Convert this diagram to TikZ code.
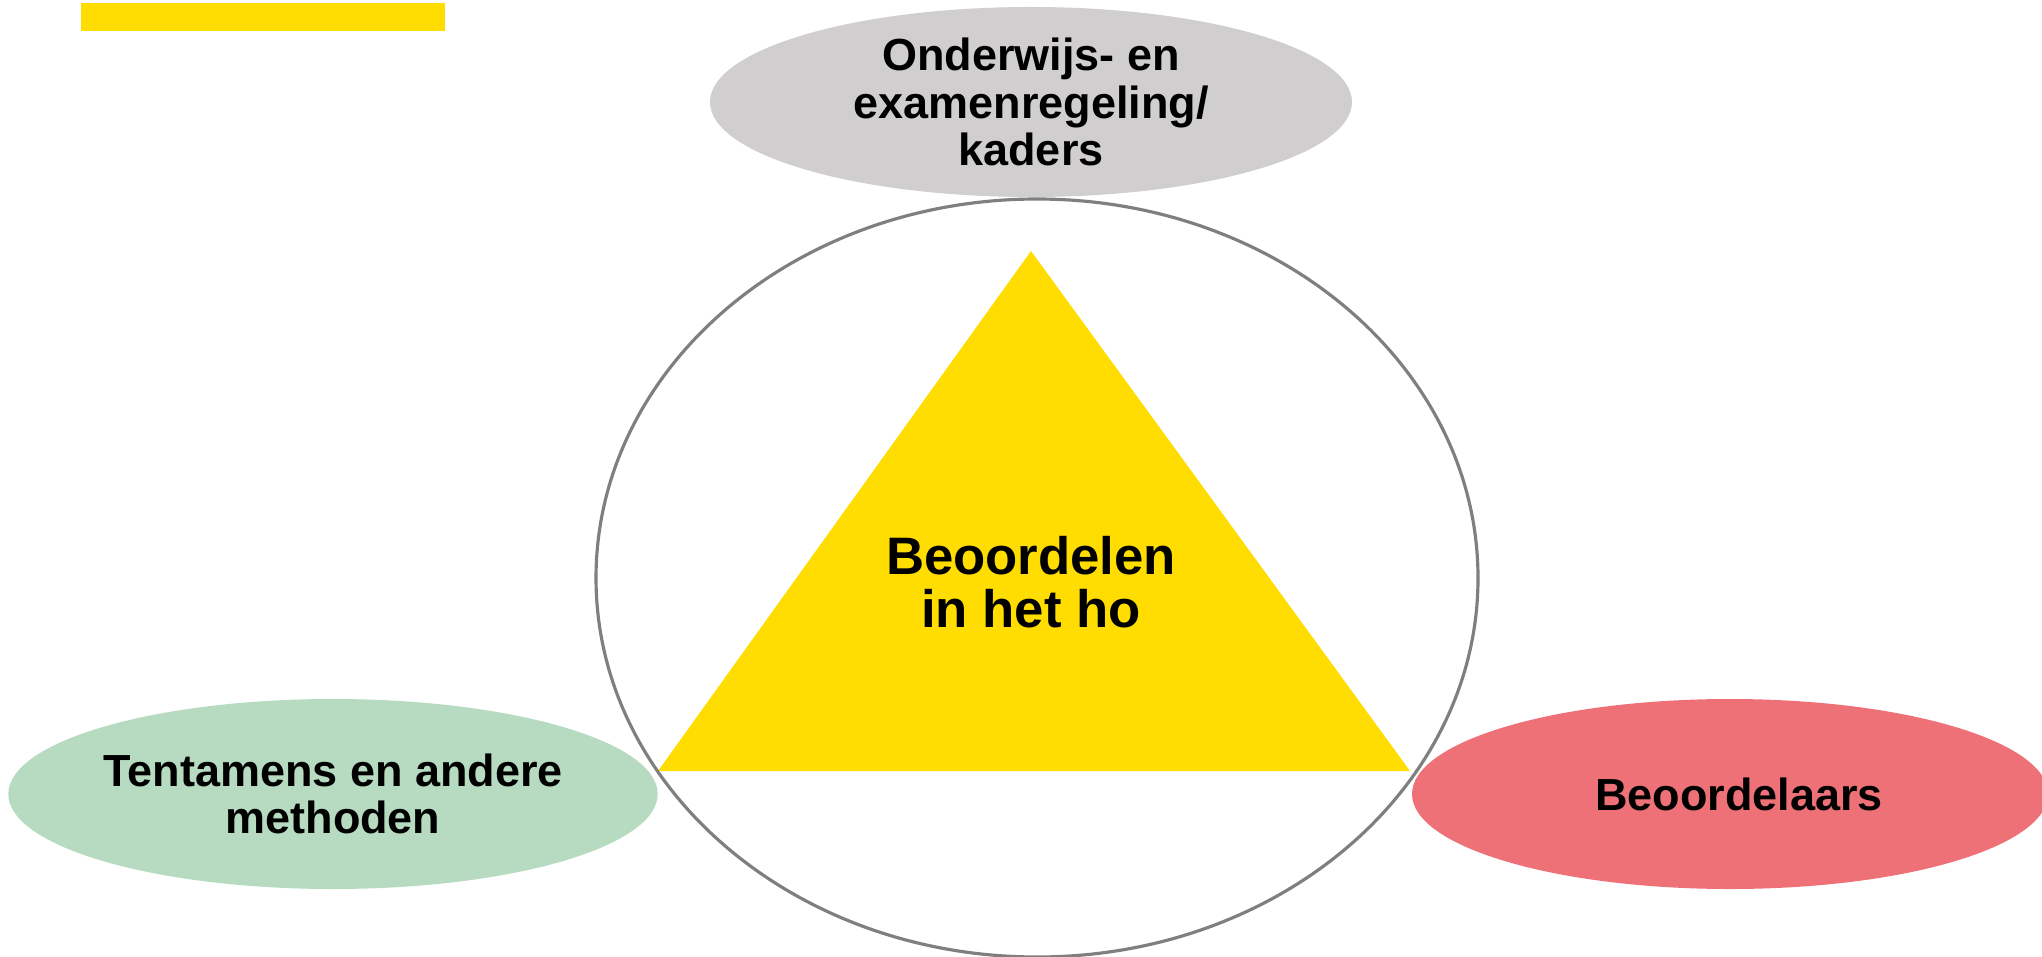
\documentclass[tikz,border=0pt]{standalone}
\usepackage{fontspec}
\setmainfont{Liberation Sans}
\usetikzlibrary{shapes.geometric}

\definecolor{hoyellow}{HTML}{FFDD00}
\definecolor{kadergrey}{HTML}{D0CECE}
\definecolor{methgreen}{HTML}{B6DBC0}
\definecolor{beoordred}{HTML}{EE7177}
\definecolor{ringgrey}{HTML}{7F7F7F}

\tikzset{
    pillar/.style={ellipse, inner sep=0pt, minimum width=6.42cm, minimum height=1.9cm,
        align=center, font=\bfseries\fontsize{12.8}{13.4}\selectfont},
}

\begin{document}
\begin{tikzpicture}
    \useasboundingbox (0,0) rectangle (20.42,-9.56);

    % Accent bar
    \fill[hoyellow] (0.81,-0.03) rectangle (4.45,-0.31);

    % Triangle
    \coordinate (top) at (10.31,-2.51);
    \coordinate (left) at (6.58,-7.71);
    \coordinate (right) at (14.10,-7.71);
    \fill[hoyellow] (top) -- (left) -- (right) -- cycle;
    \node[align=center, font=\bfseries\fontsize{15}{15.2}\selectfont] (core) at (10.31,-5.82) {Beoordelen\\in het ho};

    % Pillars
    \node[pillar, fill=kadergrey] (kaders) at (10.31,-1.02) {Onderwijs- en\\examenregeling/\\kaders};
    \node[pillar, fill=methgreen] (methoden) at (3.33,-7.94) {Tentamens en andere\\methoden};
    \node[pillar, fill=beoordred, minimum width=6.36cm] (beoordelaars) at (17.30,-7.94) {\hspace*{0.18cm}Beoordelaars};

    % Outer ring
    \node[ellipse, draw=ringgrey, line width=0.9pt, inner sep=0pt, minimum width=8.82cm, minimum height=7.58cm] (ring) at (10.37,-5.78) {};
\end{tikzpicture}
\end{document}
